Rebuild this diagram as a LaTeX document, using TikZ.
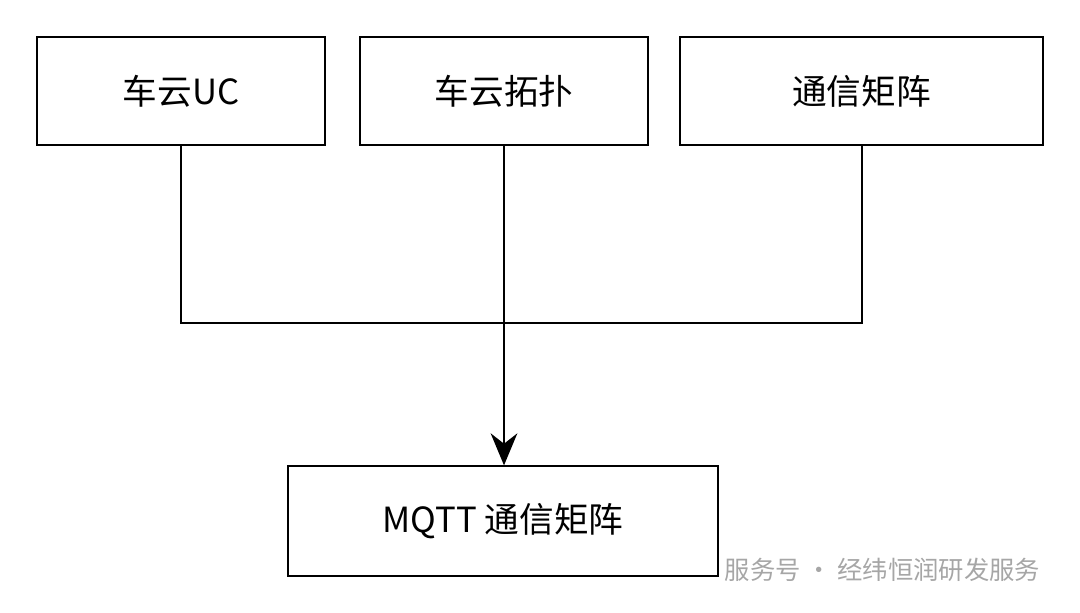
\documentclass[tikz,border=0pt]{standalone}
\usepackage{fontspec}
\setmainfont{Noto Sans CJK SC}
\usetikzlibrary{arrows.meta,positioning,calc}
\tikzstyle{block}=[draw, line width=1.5pt, font=\fontsize{26}{30}\selectfont, inner sep=0pt]
\tikzstyle{arrow}=[line width=1.5pt,-{Stealth[length=24pt,width=20pt]}]
\begin{document}
\begin{tikzpicture}[x=0.75pt,y=-0.75pt]
\useasboundingbox (0,0) rectangle (1080,613);
\node (uc) [block,minimum width=216pt,minimum height=81pt] at (181,91) {车云UC};
\node (topo) [block,minimum width=216pt,minimum height=81pt] at (504,91) {车云拓扑};
\node (mat) [block,minimum width=272pt,minimum height=81pt] at (861.5,91) {通信矩阵};
\node (mqtt) [block,minimum width=322pt,minimum height=82pt] at (503,521) {MQTT 通信矩阵};
\coordinate (join) at (504,323);
\draw[line width=1.5pt] (uc.south) |- (join) -| (mat.south);
\draw[arrow] (topo.south) -- (topo.south|-mqtt.north);
\node (mark) [text=gray!70, font=\fontsize{19}{22}\selectfont, anchor=east] at (1045,570) {服务号 · 经纬恒润研发服务};
\end{tikzpicture}
\end{document}
